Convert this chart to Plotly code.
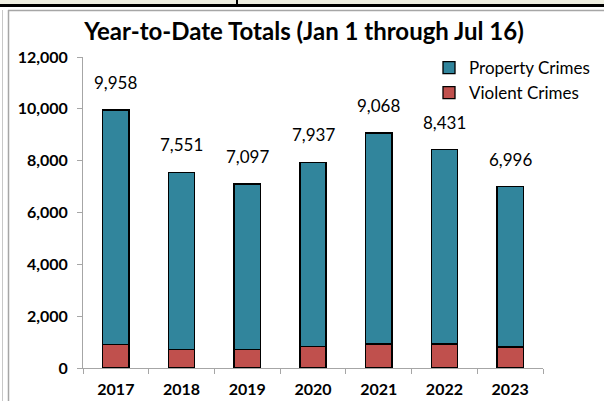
import plotly.graph_objects as go

years = ["2017", "2018", "2019", "2020", "2021", "2022", "2023"]
totals = [9958, 7551, 7097, 7937, 9068, 8431, 6996]
violent = [910, 705, 715, 820, 925, 925, 810]
property_crimes = [t - v for t, v in zip(totals, violent)]
y_ticks = [0, 2000, 4000, 6000, 8000, 10000, 12000]

FONT = "Lato"
W, H = 604, 401
L, R, T, B = 83, 61, 57, 33
pw, ph = W - L - R, H - T - B


def px(x):
    return (x - L) / pw


def py(y):
    return (H - B - y) / ph


fig = go.Figure()
fig.add_trace(go.Bar(
    x=years, y=violent, name="Violent Crimes",
    marker=dict(color="#C0504D", line=dict(color="#000000", width=1.3)),
))
fig.add_trace(go.Bar(
    x=years, y=property_crimes, name="Property Crimes",
    marker=dict(color="#31859C", line=dict(color="#000000", width=1.3)),
))

for i, tot in enumerate(totals):
    fig.add_annotation(
        x=i, y=tot, text=f"{tot:,}", showarrow=False,
        yanchor="bottom", yshift=15,
        font=dict(family=FONT, size=17, color="#000000"),
    )

shapes = [
    dict(type="rect", xref="paper", yref="paper", x0=px(0), x1=px(W), y0=py(0), y1=py(4),
         fillcolor="#EFEFE2", line=dict(width=0), layer="below"),
    dict(type="line", xref="paper", yref="paper", x0=px(0), x1=px(W), y0=py(5.5), y1=py(5.5),
         line=dict(color="#000000", width=3)),
    dict(type="line", xref="paper", yref="paper", x0=px(237), x1=px(237), y0=py(0), y1=py(5),
         line=dict(color="#000000", width=2)),
    dict(type="line", xref="paper", yref="paper", x0=px(8), x1=px(W), y0=py(10.5), y1=py(10.5),
         line=dict(color="#A6A6A6", width=1.5)),
    dict(type="line", xref="paper", yref="paper", x0=px(8.5), x1=px(8.5), y0=py(10), y1=py(H),
         line=dict(color="#A6A6A6", width=1.5)),
    dict(type="line", xref="paper", yref="paper", x0=px(2.5), x1=px(2.5), y0=py(10), y1=py(H),
         line=dict(color="#C8C8C8", width=1)),
]

fig.update_layout(
    width=W, height=H,
    margin=dict(l=L, r=R, t=T, b=B, pad=0, autoexpand=False),
    barmode="stack", bargap=0.6,
    paper_bgcolor="#FFFFFF", plot_bgcolor="#FFFFFF",
    showlegend=True,
    legend=dict(
        x=px(429), y=py(50), xanchor="left", yanchor="top",
        traceorder="reversed",
        font=dict(family=FONT, size=17, color="#000000"),
        itemwidth=30, tracegroupgap=0,
        bgcolor="rgba(0,0,0,0)",
    ),
    title=dict(
        text="<b>Year-to-Date Totals (Jan 1 through Jul 16)</b>",
        x=304 / W, xref="container", xanchor="center",
        y=1 - 32 / H, yanchor="middle",
        font=dict(family=FONT, size=24, color="#000000"),
        automargin=False,
    ),
    xaxis=dict(
        type="category", range=[-0.5, len(years) - 0.5], automargin=False,
        showline=True, linecolor="#A6A6A6", linewidth=1,
        ticks="outside", tickson="boundaries", ticklen=5, tickcolor="#A6A6A6",
        tickfont=dict(family=FONT, size=16, color="#000000", weight="bold"),
        ticklabelstandoff=7,
        showgrid=False, zeroline=False,
    ),
    yaxis=dict(
        range=[0, 12000], tickvals=y_ticks, ticktext=[f"{v:,}" for v in y_ticks],
        automargin=False,
        showline=True, linecolor="#A6A6A6", linewidth=1,
        ticks="outside", ticklen=5, tickcolor="#A6A6A6",
        tickfont=dict(family=FONT, size=16, color="#000000", weight="bold"),
        ticklabelstandoff=6,
        showgrid=False, zeroline=False,
    ),
    shapes=shapes,
)

fig.write_html("out.html")
